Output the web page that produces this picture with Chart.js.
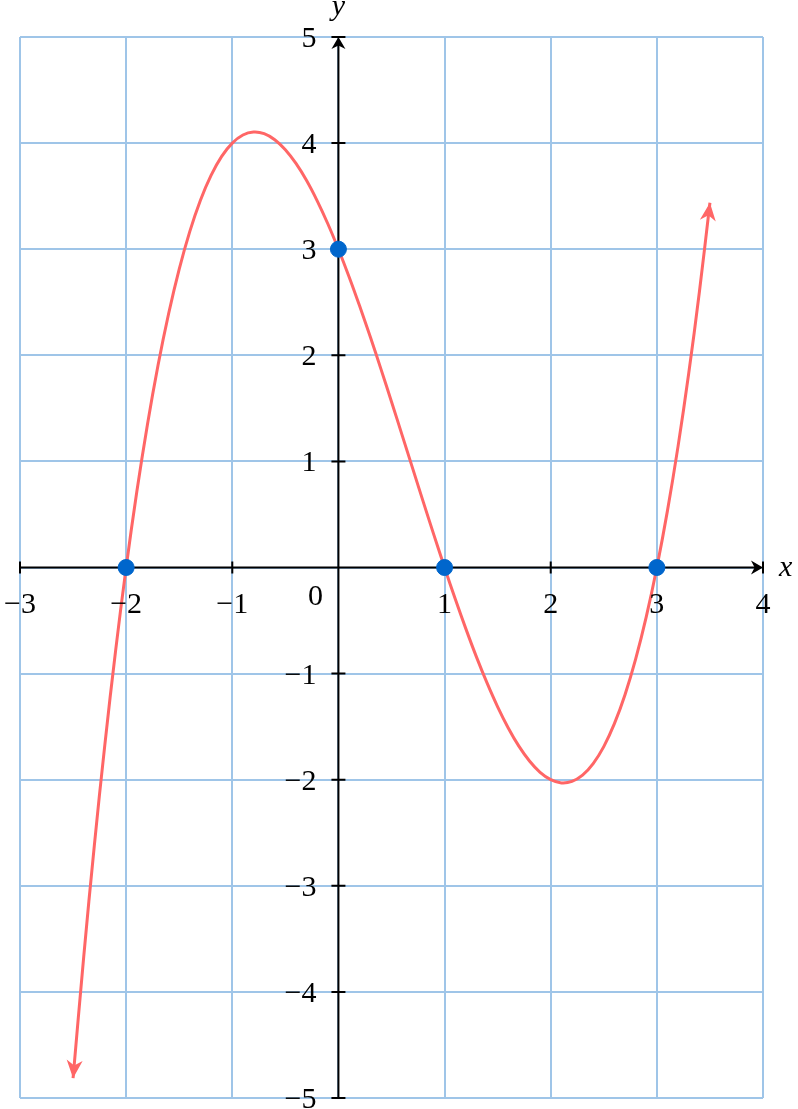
<!DOCTYPE html>
<html>
<head>
<meta charset="utf-8">
<script src="https://cdn.jsdelivr.net/npm/chart.js@4/dist/chart.umd.min.js"></script>
<style>
  html, body { margin: 0; padding: 0; background: #fff; }
  #wrap { width: 798px; height: 1109px; position: relative; }
</style>
</head>
<body>
<div id="wrap"><canvas id="grafico"></canvas></div>
<script>
// valores (curva vermelha, passo 0.1)
const curveX = [-2.5,-2.4,-2.3,-2.2,-2.1,-2.0,-1.9,-1.8,-1.7,-1.6,-1.5,-1.4,-1.3,-1.2,-1.1,-1.0,-0.9,-0.8,-0.7,-0.6,-0.5,-0.4,-0.3,-0.2,-0.1,
  0,0.1,0.2,0.3,0.4,0.5,0.6,0.7,0.8,0.9,1.0,1.1,1.2,1.3,1.4,1.5,1.6,1.7,1.8,1.9,2.0,2.1,2.2,2.3,2.4,2.5,2.6,2.7,2.8,2.9,3.0,3.1,3.2,3.3,3.4,3.5];
const curveY = [-4.813,-3.672,-2.624,-1.664,-0.791,0,0.711,1.344,1.904,2.392,2.813,3.168,3.462,3.696,3.875,4.000,4.076,4.104,4.089,4.032,3.938,3.808,3.647,3.456,3.240,
  3.000,2.741,2.464,2.174,1.872,1.563,1.248,0.932,0.616,0.305,0,-0.295,-0.576,-0.842,-1.088,-1.313,-1.512,-1.684,-1.824,-1.931,-2.000,-2.030,-2.016,-1.957,-1.848,-1.688,-1.472,-1.199,-0.864,-0.466,0,0.536,1.144,1.829,2.592,3.438];
// pontos azuis (raízes e intercepto)
const dotX = [-2, 0, 1, 3];
const dotY = [0, 3, 0, 0];
// marcas dos eixos
const xTicks = [-3, -2, -1, 1, 2, 3, 4];
const yTicks = [-5, -4, -3, -2, -1, 1, 2, 3, 4, 5];
const xTickLabels = ['\u22123', '\u22122', '\u22121', '1', '2', '3', '4'];
const yTickLabels = ['\u22125', '\u22124', '\u22123', '\u22122', '\u22121', '1', '2', '3', '4', '5'];
const originLabel = '0';
const xAxisTitle = 'x';
const yAxisTitle = 'y';

const RED = '#ff6666';
const BLUE = '#0066cc';
const GRID = '#9fc5e8';
const FONT = '30px "Liberation Serif", "DejaVu Serif", serif';
const FONT_IT = 'italic 30px "Liberation Serif", "DejaVu Serif", serif';

function arrow(ctx, tipX, tipY, ang, len, wid, color){
  ctx.save();
  ctx.translate(tipX, tipY);
  ctx.rotate(ang);
  ctx.fillStyle = color;
  ctx.beginPath();
  ctx.moveTo(0, 0);
  ctx.lineTo(-len, wid/2);
  ctx.lineTo(-len*0.7, 0);
  ctx.lineTo(-len, -wid/2);
  ctx.closePath();
  ctx.fill();
  ctx.restore();
}

const eixosPlugin = {
  id: 'eixos',
  beforeDatasetsDraw(chart){
    const { ctx, scales: { x, y } } = chart;
    const x0 = x.getPixelForValue(0), y0 = y.getPixelForValue(0);
    const xl = x.getPixelForValue(-3), xr = x.getPixelForValue(4);
    const yt = y.getPixelForValue(5), yb = y.getPixelForValue(-5);
    ctx.save();
    ctx.strokeStyle = '#000';
    ctx.lineWidth = 2;
    ctx.beginPath();
    ctx.moveTo(xl, y0); ctx.lineTo(xr - 4, y0);
    ctx.moveTo(x0, yb); ctx.lineTo(x0, yt + 4);
    xTicks.forEach(v => { const p = x.getPixelForValue(v); ctx.moveTo(p, y0 - 6); ctx.lineTo(p, y0 + 6); });
    yTicks.forEach(v => { const p = y.getPixelForValue(v); ctx.moveTo(x0 - 7, p); ctx.lineTo(x0 + 7, p); });
    ctx.stroke();
    arrow(ctx, xr, y0, 0, 12, 14, '#000');
    arrow(ctx, x0, yt, -Math.PI/2, 12, 14, '#000');
    ctx.restore();
  },
  afterDatasetsDraw(chart){
    const { ctx, scales: { x, y } } = chart;
    const x0 = x.getPixelForValue(0), y0 = y.getPixelForValue(0);
    // setas da curva
    const n = curveX.length;
    const ax = x.getPixelForValue(curveX[0]), ay = y.getPixelForValue(curveY[0]);
    const bx = x.getPixelForValue(curveX[1]), by = y.getPixelForValue(curveY[1]);
    arrow(ctx, ax, ay, Math.atan2(ay - by, ax - bx), 18, 16, RED);
    const cx = x.getPixelForValue(curveX[n-1]), cy = y.getPixelForValue(curveY[n-1]);
    const dx = x.getPixelForValue(curveX[n-2]), dy = y.getPixelForValue(curveY[n-2]);
    arrow(ctx, cx, cy, Math.atan2(cy - dy, cx - dx), 18, 16, RED);
    // rótulos
    ctx.save();
    ctx.fillStyle = '#000';
    ctx.font = FONT;
    ctx.textBaseline = 'alphabetic';
    ctx.textAlign = 'center';
    xTicks.forEach((v, i) => ctx.fillText(xTickLabels[i], x.getPixelForValue(v), y0 + 45));
    ctx.textAlign = 'right';
    yTicks.forEach((v, i) => ctx.fillText(yTickLabels[i], x0 - 22, y.getPixelForValue(v) + 10));
    ctx.textAlign = 'center';
    ctx.fillText(originLabel, x0 - 23, y0 + 37);
    ctx.font = FONT_IT;
    ctx.textAlign = 'left';
    ctx.fillText(xAxisTitle, x.getPixelForValue(4) + 16, y0 + 8);
    ctx.textAlign = 'center';
    ctx.fillText(yAxisTitle, x0, 15);
    ctx.restore();
  }
};

new Chart(document.getElementById('grafico').getContext('2d'), {
  type: 'scatter',
  data: {
    datasets: [
      { label: 'pontos', data: dotX.map((v, i) => ({ x: v, y: dotY[i] })), backgroundColor: BLUE, borderColor: BLUE, pointRadius: 8, pointHoverRadius: 8, showLine: false },
      { label: 'f(x)', data: curveX.map((v, i) => ({ x: v, y: curveY[i] })), borderColor: RED, borderWidth: 3, pointRadius: 0, showLine: true, tension: 0.4, fill: false }
    ]
  },
  options: {
    responsive: true, maintainAspectRatio: false, animation: false,
    layout: { padding: { left: 20, right: 35, top: 37, bottom: 11 } },
    plugins: { legend: { display: false }, tooltip: { enabled: false } },
    scales: {
      x: { type: 'linear', min: -3, max: 4, ticks: { display: false, stepSize: 1 }, grid: { color: GRID, lineWidth: 2, drawTicks: false }, border: { display: false } },
      y: { type: 'linear', min: -5, max: 5, ticks: { display: false, stepSize: 1 }, grid: { color: GRID, lineWidth: 2, drawTicks: false }, border: { display: false } }
    }
  },
  plugins: [eixosPlugin]
});
</script>
</body>
</html>
